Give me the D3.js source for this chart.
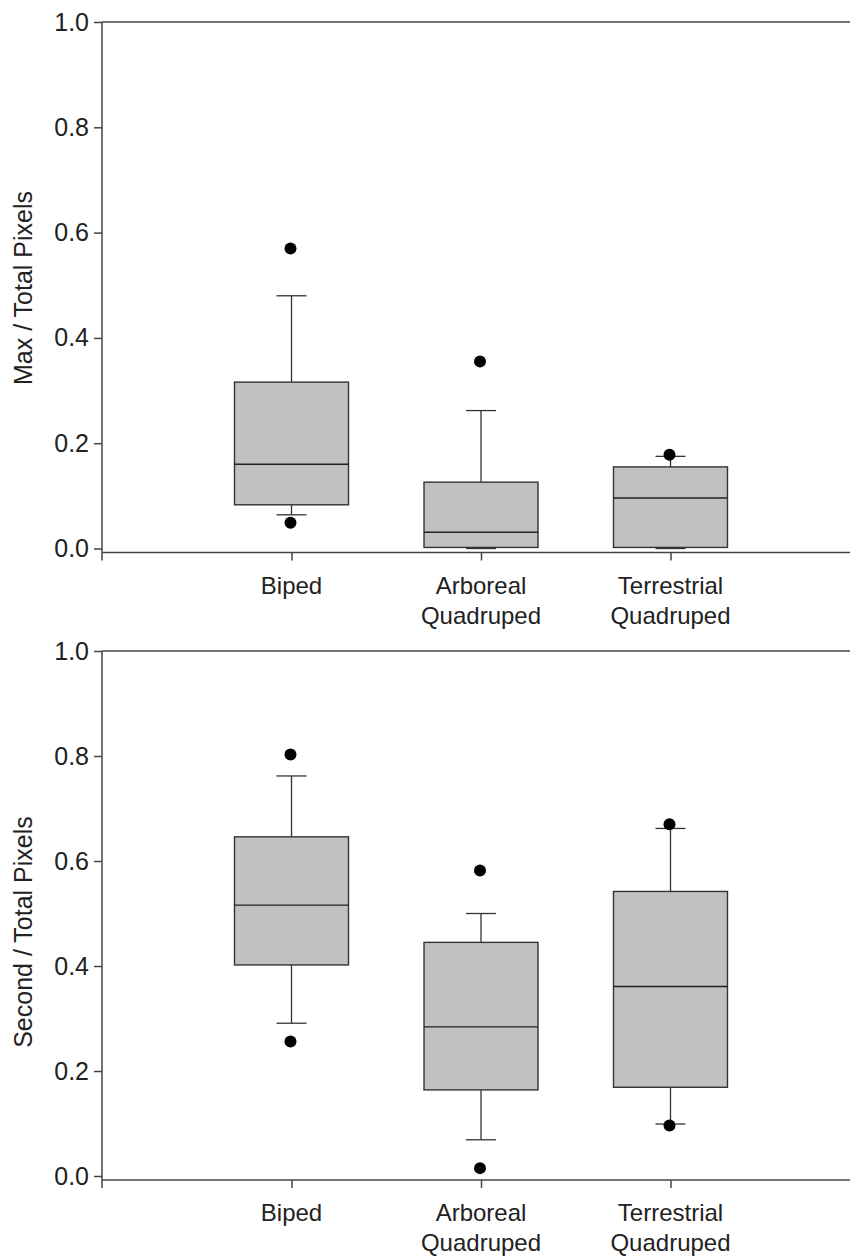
<!DOCTYPE html>
<html>
<head>
<meta charset="utf-8">
<script src="https://cdn.jsdelivr.net/npm/d3@7"></script>
<style>
  body { margin: 0; background: #fff; }
  svg { display: block; }
  text { font-family: "Liberation Sans", Arial, sans-serif; fill: #222; }
</style>
</head>
<body>
<svg width="850" height="1257"></svg>
<script>
// categories (label lines)
const categories = ['Biped', 'Arboreal Quadruped', 'Terrestrial Quadruped'];
const categoryLines = [['Biped'], ['Arboreal', 'Quadruped'], ['Terrestrial', 'Quadruped']];
const yTicks = [0, 0.2, 0.4, 0.6, 0.8, 1.0];

// Max / Total Pixels
const maxLow = [0.064, 0.000, 0.000];
const maxQ1 = [0.083, 0.002, 0.002];
const maxMedian = [0.160, 0.031, 0.096];
const maxQ3 = [0.316, 0.126, 0.155];
const maxHigh = [0.480, 0.262, 0.175];
const maxOutliers = [[0.049, 0.570], [0.355], [0.178]];

// Second / Total Pixels
const secLow = [0.291, 0.069, 0.099];
const secQ1 = [0.402, 0.164, 0.169];
const secMedian = [0.516, 0.284, 0.361];
const secQ3 = [0.646, 0.445, 0.542];
const secHigh = [0.762, 0.500, 0.662];
const secOutliers = [[0.256, 0.803], [0.015, 0.582], [0.096, 0.670]];

const svg = d3.select('svg');
const axisColor = '#444';

const x = d3.scalePoint().domain(categories).range([102, 860]).padding(1);
const boxHalf = 57;
const capHalf = 15;

const drawPanel = (top, bottom, title, titleY, low, q1, med, q3, high, outliers) => {
  const g = svg.append('g');
  const y = d3.scaleLinear().domain([0, 1]).range([bottom, top]);
  const xAxisY = bottom + 4;

  // frame top line
  g.append('line')
    .attr('x1', 102).attr('x2', 850)
    .attr('y1', y(1)).attr('y2', y(1))
    .attr('stroke', axisColor).attr('stroke-width', 1.6);

  // y axis
  const yAxis = g.append('g')
    .attr('transform', 'translate(102,0)')
    .call(d3.axisLeft(y).tickValues(yTicks).tickFormat(d3.format('.1f')).tickSize(8).tickPadding(5));
  yAxis.select('.domain').remove();
  yAxis.selectAll('line').attr('stroke', axisColor).attr('stroke-width', 1.5);
  yAxis.selectAll('text').attr('font-size', 25).attr('fill', '#222')
    .style('font-family', '"Liberation Sans", Arial, sans-serif');
  g.append('line')
    .attr('x1', 102).attr('x2', 102)
    .attr('y1', y(1)).attr('y2', xAxisY + 8)
    .attr('stroke', axisColor).attr('stroke-width', 1.5);

  // x axis
  const xAxis = g.append('g')
    .attr('transform', `translate(0,${xAxisY})`)
    .call(d3.axisBottom(x).tickSize(8).tickFormat(''));
  xAxis.select('.domain').remove();
  xAxis.selectAll('line').attr('stroke', axisColor).attr('stroke-width', 1.5);
  g.append('line')
    .attr('x1', 102).attr('x2', 850)
    .attr('y1', xAxisY).attr('y2', xAxisY)
    .attr('stroke', axisColor).attr('stroke-width', 1.6);

  categories.forEach((c, i) => {
    const t = g.append('text')
      .attr('x', x(c))
      .attr('y', xAxisY + 41)
      .attr('text-anchor', 'middle')
      .attr('font-size', 24);
    categoryLines[i].forEach((line, j) => {
      t.append('tspan').attr('x', x(c)).attr('dy', j === 0 ? 0 : 30).text(line);
    });
  });

  // y title
  g.append('text')
    .attr('transform', `translate(32,${titleY}) rotate(-90)`)
    .attr('text-anchor', 'middle')
    .attr('font-size', 25)
    .text(title);

  // boxes
  categories.forEach((c, i) => {
    const cx = x(c);
    const stroke = '#333';
    // whiskers
    g.append('line')
      .attr('x1', cx).attr('x2', cx)
      .attr('y1', y(q3[i])).attr('y2', y(high[i]))
      .attr('stroke', stroke).attr('stroke-width', 1.3);
    g.append('line')
      .attr('x1', cx).attr('x2', cx)
      .attr('y1', y(q1[i])).attr('y2', y(low[i]))
      .attr('stroke', stroke).attr('stroke-width', 1.3);
    g.append('rect')
      .attr('x', cx - boxHalf)
      .attr('y', y(q3[i]))
      .attr('width', boxHalf * 2)
      .attr('height', y(q1[i]) - y(q3[i]))
      .attr('fill', '#c1c1c1')
      .attr('stroke', stroke).attr('stroke-width', 1.4);
    g.append('line')
      .attr('x1', cx - boxHalf).attr('x2', cx + boxHalf)
      .attr('y1', y(med[i])).attr('y2', y(med[i]))
      .attr('stroke', '#222').attr('stroke-width', 1.4);
    [high[i], low[i]].forEach(v => {
      g.append('line')
        .attr('x1', cx - capHalf).attr('x2', cx + capHalf)
        .attr('y1', y(v)).attr('y2', y(v))
        .attr('stroke', stroke).attr('stroke-width', 1.3);
    });
    outliers[i].forEach(v => {
      g.append('circle')
        .attr('cx', cx - 1)
        .attr('cy', y(v))
        .attr('r', 6)
        .attr('fill', '#000');
    });
  });
};

drawPanel(22, 548.5, 'Max / Total Pixels', 288, maxLow, maxQ1, maxMedian, maxQ3, maxHigh, maxOutliers);
drawPanel(651, 1176, 'Second / Total Pixels', 932, secLow, secQ1, secMedian, secQ3, secHigh, secOutliers);
</script>
</body>
</html>
